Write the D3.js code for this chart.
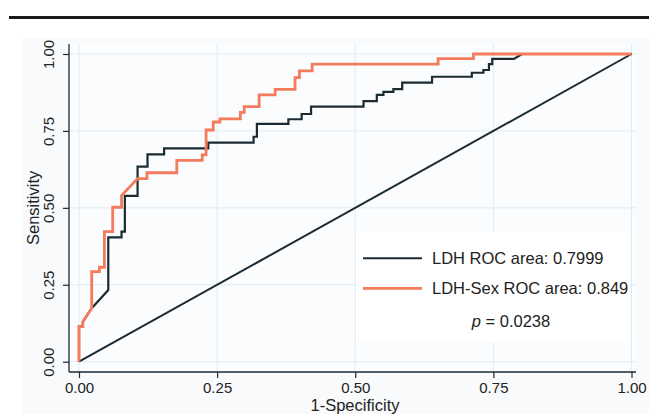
<!DOCTYPE html>
<html>
<head>
<meta charset="utf-8">
<script src="https://d3js.org/d3.v7.min.js"></script>
<style>
  html, body { margin: 0; padding: 0; background: #ffffff; }
  svg { display: block; }
  text { font-family: "Liberation Sans", Arial, sans-serif; }
</style>
</head>
<body>
<svg id="chart" width="649" height="414"></svg>
<script>
// ---- data ----
const xTicks = [0, 0.25, 0.5, 0.75, 1];
const yTicks = [0, 0.25, 0.5, 0.75, 1];
const xTickLabels = ["0.00", "0.25", "0.50", "0.75", "1.00"];
const yTickLabels = ["0.00", "0.25", "0.50", "0.75", "1.00"];

// LDH ROC curve (1-specificity, sensitivity)
const ldhFpr  = [0, 0, 0.007, 0.007, 0.023, 0.053, 0.053, 0.077, 0.077, 0.083, 0.083, 0.106, 0.106, 0.124, 0.124, 0.154, 0.154, 0.234, 0.234, 0.316, 0.316, 0.322, 0.322, 0.379, 0.379, 0.403, 0.403, 0.420, 0.420, 0.515, 0.515, 0.539, 0.539, 0.551, 0.551, 0.569, 0.569, 0.585, 0.585, 0.639, 0.639, 0.711, 0.711, 0.732, 0.732, 0.742, 0.742, 0.748, 0.748, 0.787, 0.802, 1];
const ldhTpr  = [0, 0.114, 0.114, 0.130, 0.174, 0.233, 0.404, 0.404, 0.423, 0.423, 0.539, 0.539, 0.634, 0.634, 0.674, 0.674, 0.693, 0.693, 0.712, 0.712, 0.731, 0.731, 0.773, 0.773, 0.788, 0.788, 0.805, 0.805, 0.829, 0.829, 0.847, 0.847, 0.867, 0.867, 0.877, 0.877, 0.886, 0.886, 0.907, 0.907, 0.926, 0.926, 0.939, 0.939, 0.948, 0.948, 0.967, 0.967, 0.984, 0.984, 1, 1];

// LDH-Sex ROC curve
const sexFpr  = [0, 0, 0.007, 0.007, 0.023, 0.023, 0.037, 0.037, 0.046, 0.046, 0.061, 0.061, 0.077, 0.077, 0.106, 0.123, 0.123, 0.177, 0.177, 0.223, 0.223, 0.230, 0.230, 0.243, 0.243, 0.255, 0.255, 0.292, 0.292, 0.299, 0.299, 0.326, 0.326, 0.355, 0.355, 0.391, 0.391, 0.399, 0.399, 0.422, 0.422, 0.650, 0.650, 0.714, 0.714, 1];
const sexTpr  = [0, 0.114, 0.114, 0.130, 0.174, 0.293, 0.293, 0.307, 0.307, 0.423, 0.423, 0.502, 0.502, 0.540, 0.595, 0.595, 0.614, 0.614, 0.654, 0.654, 0.672, 0.672, 0.753, 0.753, 0.779, 0.779, 0.789, 0.789, 0.810, 0.810, 0.829, 0.829, 0.867, 0.867, 0.885, 0.885, 0.923, 0.923, 0.945, 0.945, 0.967, 0.967, 0.985, 0.985, 1, 1];

const refFpr = [0, 1];
const refTpr = [0, 1];

const legendLabels = ["LDH ROC area: 0.7999", "LDH-Sex ROC area: 0.849"];
const pValueText = "0.0238";
const xTitle = "1-Specificity";
const yTitle = "Sensitivity";

// ---- drawing ----
const svg = d3.select("#chart");
const W = 649, H = 414;
const black = "#1b2a33", orange = "#f47b5b", grid = "#dcecf4";

svg.append("rect").attr("width", W).attr("height", H).attr("fill", "#ffffff");
// top rule
svg.append("line").attr("x1", 9).attr("x2", W).attr("y1", 17.5).attr("y2", 17.5)
  .attr("stroke", "#1a1a1a").attr("stroke-width", 3);
// graph region
svg.append("rect").attr("x", 22).attr("y", 38).attr("width", W - 22).attr("height", H - 38)
  .attr("fill", "#f8fafc");

const x = d3.scaleLinear().domain([0, 1]).range([79, 631.5]);
const y = d3.scaleLinear().domain([0, 1]).range([361.7, 54]);

const plotL = 69, plotR = 636, plotT = 44, plotB = 372;
svg.append("rect").attr("x", plotL).attr("y", plotT).attr("width", plotR - plotL).attr("height", plotB - plotT)
  .attr("fill", "#fbfcfd");

// gridlines
const g = svg.append("g");
g.selectAll(".vg").data(xTicks).join("line")
  .attr("x1", d => x(d)).attr("x2", d => x(d)).attr("y1", plotT).attr("y2", plotB)
  .attr("stroke", grid).attr("stroke-width", 1);
g.selectAll(".hg").data(yTicks).join("line")
  .attr("y1", d => y(d)).attr("y2", d => y(d)).attr("x1", plotL).attr("x2", plotR)
  .attr("stroke", grid).attr("stroke-width", 1);

// legend box (covers gridlines)
svg.append("rect").attr("x", 356).attr("y", 232).attr("width", 274).attr("height", 110)
  .attr("fill", "#ffffff");

// axes
const xAxis = d3.axisBottom(x).tickValues(xTicks).tickFormat((d, i) => xTickLabels[i]).tickSize(6).tickPadding(4);
const yAxis = d3.axisLeft(y).tickValues(yTicks).tickFormat((d, i) => yTickLabels[i]).tickSize(6).tickPadding(4);

const gx = svg.append("g").attr("transform", `translate(0,${plotB})`).call(xAxis);
gx.select(".domain").remove();
gx.append("line").attr("x1", plotL).attr("x2", plotR).attr("stroke", black).attr("stroke-width", 1.3);
gx.selectAll(".tick line").attr("stroke", black).attr("stroke-width", 1.2);
gx.selectAll(".tick text").attr("fill", "#222").attr("font-size", 15)
  .attr("font-family", "Liberation Sans, Arial, sans-serif").attr("dy", "0.71em");

const gy = svg.append("g").attr("transform", `translate(${plotL},0)`).call(yAxis);
gy.select(".domain").remove();
gy.append("line").attr("y1", plotT).attr("y2", plotB).attr("stroke", black).attr("stroke-width", 1.3);
gy.selectAll(".tick line").attr("stroke", black).attr("stroke-width", 1.2);
gy.selectAll(".tick text")
  .attr("fill", "#222").attr("font-size", 15)
  .attr("font-family", "Liberation Sans, Arial, sans-serif")
  .attr("text-anchor", "middle")
  .attr("x", null).attr("dy", null)
  .attr("transform", "translate(-15,0) rotate(-90)")
  .attr("y", 0);

// axis titles
svg.append("text").attr("x", 355).attr("y", 411).attr("text-anchor", "middle")
  .attr("font-size", 16.5).attr("fill", "#222").text(xTitle);
svg.append("text").attr("transform", `translate(39,${y(0.5)}) rotate(-90)`).attr("text-anchor", "middle")
  .attr("font-size", 16.5).attr("fill", "#222").text(yTitle);

// reference diagonal
const line = d3.line().x(d => x(d[0])).y(d => y(d[1]));
svg.append("path").datum(d3.zip(refFpr, refTpr)).attr("d", line)
  .attr("fill", "none").attr("stroke", black).attr("stroke-width", 2);
// LDH curve
svg.append("path").datum(d3.zip(ldhFpr, ldhTpr)).attr("d", line)
  .attr("fill", "none").attr("stroke", black).attr("stroke-width", 2.2).attr("stroke-linejoin", "miter");
// LDH-Sex curve
svg.append("path").datum(d3.zip(sexFpr, sexTpr)).attr("d", line)
  .attr("fill", "none").attr("stroke", orange).attr("stroke-width", 2.8).attr("stroke-linejoin", "miter");

// legend
const leg = svg.append("g");
const legColors = [black, orange];
const legY = [258.3, 288.3];
legendLabels.forEach((t, i) => {
  leg.append("line").attr("x1", 363).attr("x2", 422).attr("y1", legY[i]).attr("y2", legY[i])
    .attr("stroke", legColors[i]).attr("stroke-width", i === 0 ? 2 : 2.8);
  leg.append("text").attr("x", 432).attr("y", legY[i] + 6).attr("font-size", 16.5).attr("fill", "#222").text(t);
});
const pt = leg.append("text").attr("x", 511).attr("y", 327).attr("text-anchor", "middle")
  .attr("font-size", 16.5).attr("fill", "#222");
pt.append("tspan").attr("font-style", "italic").text("p");
pt.append("tspan").text(" = " + pValueText);
</script>
</body>
</html>
